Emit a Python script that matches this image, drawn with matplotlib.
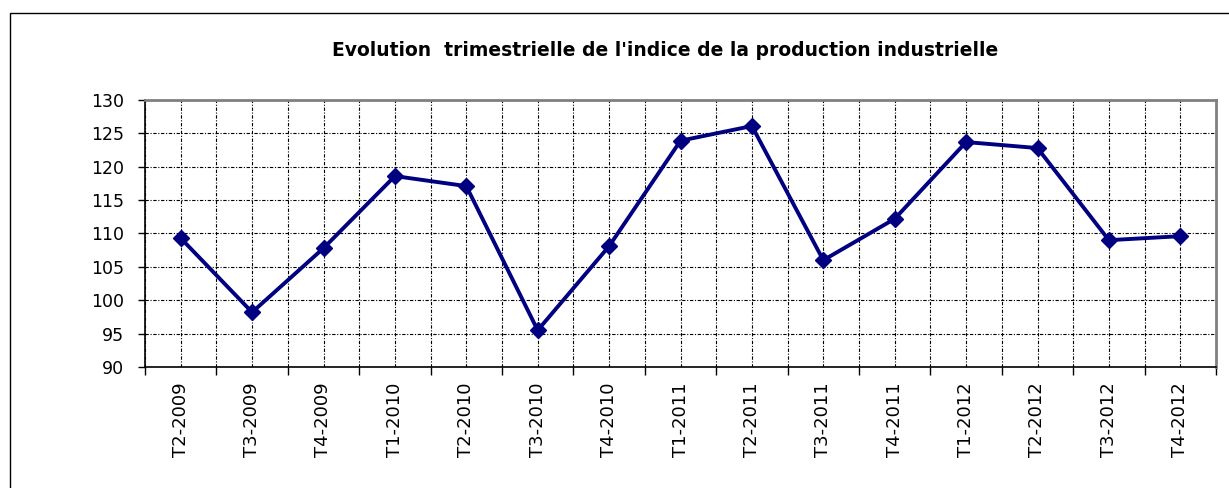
import numpy as np
import matplotlib.pyplot as plt
from matplotlib.patches import Rectangle

plt.rcParams['font.family'] = ['DejaVu Sans']

# Data
quarters = ["T2-2009", "T3-2009", "T4-2009", "T1-2010", "T2-2010", "T3-2010",
            "T4-2010", "T1-2011", "T2-2011", "T3-2011", "T4-2011", "T1-2012",
            "T2-2012", "T3-2012", "T4-2012"]
indice = [109.3, 98.2, 107.8, 118.6, 117.1, 95.5, 108.1, 123.9, 126.1,
          106.0, 112.2, 123.7, 122.8, 109.0, 109.6]
y_ticks = [90, 95, 100, 105, 110, 115, 120, 125, 130]

fig = plt.figure(figsize=(12.29, 4.88), dpi=100)
ax = fig.add_axes([145 / 1229, 1 - 367 / 488, 1071 / 1229, 267 / 488])

# outer chart frame
fig.patches.append(Rectangle((10 / 1229, -0.1), 1.2, 1 - 13 / 488 + 0.1,
                             transform=fig.transFigure, fill=False,
                             edgecolor='black', linewidth=1.0))

x = np.arange(len(quarters))
ax.plot(x, indice, color='#000080', linewidth=2.8, marker='D',
        markersize=8.5, zorder=3)

ax.set_xlim(-0.5, len(quarters) - 0.5)
ax.set_ylim(90, 130)
ax.set_yticks(y_ticks)
ax.set_xticks(x)
ax.set_xticklabels(quarters, rotation=90, fontsize=13)
ax.set_xticks(np.arange(-0.5, len(quarters)), minor=True)
ax.tick_params(axis='x', which='major', length=0, pad=11)
ax.tick_params(axis='x', which='minor', length=6, width=1, direction='out')
ax.tick_params(axis='y', labelsize=12.5, length=5, width=1, direction='out', pad=10)

ax.grid(True, which='both', axis='x', color='black', linestyle=(0, (3, 1.5, 1, 1.5)),
        linewidth=0.8)
ax.grid(True, which='major', axis='y', color='black', linestyle=(0, (3, 1.5, 1, 1.5)),
        linewidth=0.8)
ax.set_axisbelow(True)

for side in ['top', 'right']:
    ax.spines[side].set_color('#808080')
    ax.spines[side].set_linewidth(2)
for side in ['left', 'bottom']:
    ax.spines[side].set_color('black')
    ax.spines[side].set_linewidth(1.2)

fig.text(665 / 1229, 1 - 50 / 488,
         "Evolution  trimestrielle de l'indice de la production industrielle",
         ha='center', va='center', fontsize=13.5, fontweight='bold')

fig.savefig('out.png', dpi=100)
